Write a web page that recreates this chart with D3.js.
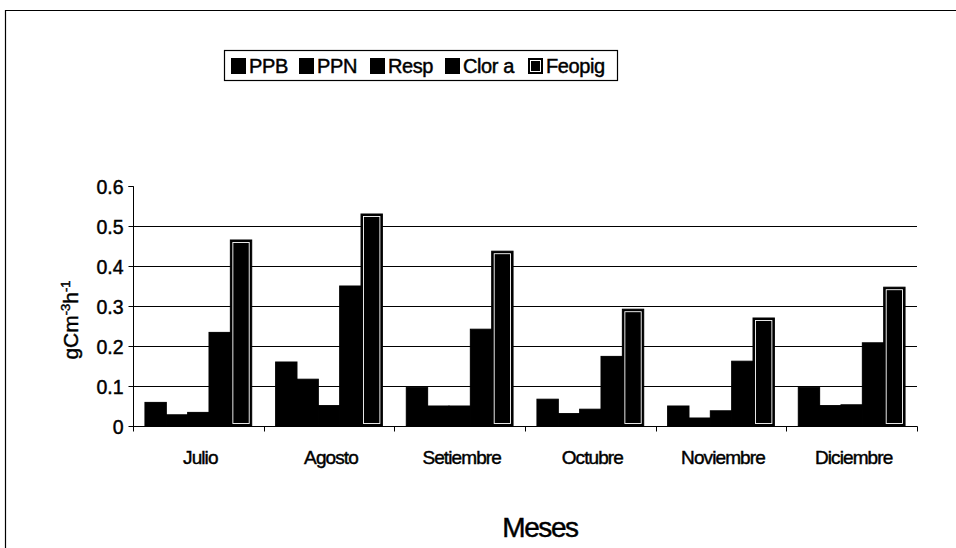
<!DOCTYPE html>
<html>
<head>
<meta charset="utf-8">
<script src="https://cdn.jsdelivr.net/npm/d3@7"></script>
<style>
  html, body { margin: 0; padding: 0; background: #fff; }
  svg { display: block; font-family: "Liberation Sans", Arial, sans-serif; }
  svg text { stroke: #000; stroke-width: 0.45px; paint-order: stroke; }
</style>
</head>
<body>
<svg id="chart" width="956" height="548"></svg>
<script>
// Monthly carbon production / respiration / pigments
const months = ["Julio", "Agosto", "Setiembre", "Octubre", "Noviembre", "Diciembre"];
const seriesNames = ["PPB", "PPN", "Resp", "Clor a", "Feopig"];
const ppb    = [0.059, 0.160, 0.096, 0.067, 0.050, 0.096];
const ppn    = [0.028, 0.117, 0.050, 0.031, 0.020, 0.051];
const resp   = [0.034, 0.051, 0.050, 0.042, 0.038, 0.053];
const clorA  = [0.234, 0.350, 0.242, 0.174, 0.162, 0.208];
const feopig = [0.465, 0.530, 0.437, 0.292, 0.270, 0.347];
const yTicks = [0, 0.1, 0.2, 0.3, 0.4, 0.5, 0.6];
const yTickLabels = ["0", "0.1", "0.2", "0.3", "0.4", "0.5", "0.6"];

const seriesValues = [ppb, ppn, resp, clorA, feopig];
const rows = [];
months.forEach((m, i) => {
  seriesNames.forEach((s, j) => rows.push({ month: m, series: s, value: seriesValues[j][i] }));
});

const svg = d3.select("#chart");

// outer frame (top and left edges)
svg.append("path")
  .attr("d", "M5.5,548 V10.5 H956")
  .attr("fill", "none").attr("stroke", "#000").attr("stroke-width", 1.2);

const plot = { left: 133, right: 917, top: 186, bottom: 426 };

const x0 = d3.scaleBand().domain(months).range([plot.left, plot.right]).padding(0);
const x1 = d3.scaleBand().domain(seriesNames).range([0, x0.bandwidth()])
  .paddingInner(0).paddingOuter(0.56);
const y = d3.scaleLinear().domain([0, 0.6]).range([plot.bottom, plot.top]);

// horizontal gridlines (no line at the top value)
svg.append("g").selectAll("line")
  .data(yTicks.filter(t => t > 0 && t < 0.6))
  .join("line")
  .attr("x1", plot.left).attr("x2", plot.right)
  .attr("y1", d => Math.round(y(d)) + 0.5).attr("y2", d => Math.round(y(d)) + 0.5)
  .attr("stroke", "#000").attr("stroke-width", 1);

// bars
const bars = svg.append("g");
bars.selectAll("rect.bar")
  .data(rows)
  .join("rect")
  .attr("class", "bar")
  .attr("x", d => x0(d.month) + x1(d.series))
  .attr("y", d => y(d.value))
  .attr("width", x1.bandwidth())
  .attr("height", d => y(0) - y(d.value))
  .attr("fill", "#000")
  .attr("stroke", "#000").attr("stroke-width", 1);

// Feopig bars carry an inner white outline
bars.selectAll("rect.inner")
  .data(rows.filter(d => d.series === "Feopig"))
  .join("rect")
  .attr("class", "inner")
  .attr("x", d => x0(d.month) + x1(d.series) + 2.5)
  .attr("y", d => y(d.value) + 2.5)
  .attr("width", x1.bandwidth() - 5)
  .attr("height", d => y(0) - y(d.value) - 5)
  .attr("fill", "none")
  .attr("stroke", "#fff").attr("stroke-width", 0.9);

// y axis
const yAxis = d3.axisLeft(y).tickValues(yTicks)
  .tickFormat((d, i) => yTickLabels[i]).tickSize(5).tickPadding(5);
const gy = svg.append("g").attr("transform", `translate(${plot.left + 0.5},0)`).call(yAxis);
gy.select(".domain").attr("stroke", "#000").attr("d", `M-5,${plot.top}.5H0V${plot.bottom}.5`);
gy.selectAll(".tick line").attr("stroke", "#000");
gy.selectAll(".tick text").attr("fill", "#000")
  .style("font-size", "19.5px").style("font-family", "'Liberation Sans', Arial, sans-serif")
  .attr("dy", "0.36em");

// x axis with ticks on category boundaries
const gx = svg.append("g").attr("transform", `translate(0,${plot.bottom + 0.5})`);
gx.append("line").attr("x1", plot.left).attr("x2", plot.right + 0.5)
  .attr("stroke", "#000");
const boundaries = months.map(m => x0(m)).concat([plot.right]);
gx.selectAll("line.tk").data(boundaries).join("line").attr("class", "tk")
  .attr("x1", d => Math.round(d) + 0.5).attr("x2", d => Math.round(d) + 0.5)
  .attr("y1", 0).attr("y2", 5).attr("stroke", "#000");
gx.selectAll("text").data(months).join("text")
  .attr("x", d => x0(d) + x0.bandwidth() / 2 + 2)
  .attr("y", 37)
  .attr("text-anchor", "middle")
  .style("font-size", "19px").style("letter-spacing", "-0.9px")
  .text(d => d);

// y axis title
const yt = svg.append("text")
  .attr("transform", "translate(78,320) rotate(-90)")
  .attr("text-anchor", "middle")
  .style("font-size", "21px");
yt.append("tspan").text("gCm");
yt.append("tspan").attr("dy", "-8").style("font-size", "13px").text("-3");
yt.append("tspan").attr("dy", "8").text("h");
yt.append("tspan").attr("dy", "-8").style("font-size", "13px").text("-1");

// x axis title
svg.append("text")
  .attr("x", 540).attr("y", 537)
  .attr("text-anchor", "middle")
  .style("font-size", "28px").style("letter-spacing", "-1.4px")
  .text("Meses");

// legend
const legend = svg.append("g");
legend.append("rect")
  .attr("x", 224.5).attr("y", 50.5).attr("width", 393).attr("height", 30)
  .attr("fill", "#fff").attr("stroke", "#000").attr("stroke-width", 1.2);
const legendX = [231, 299, 370, 445, 528];
const item = legend.selectAll("g.item").data(seriesNames).join("g")
  .attr("class", "item")
  .attr("transform", (d, i) => `translate(${legendX[i]},58)`);
item.append("rect").attr("x", 0).attr("y", 0).attr("width", 15).attr("height", 16)
  .attr("fill", "#000");
item.filter(d => d === "Feopig").append("rect")
  .attr("x", 2.5).attr("y", 2.5).attr("width", 10).attr("height", 11)
  .attr("fill", "#000").attr("stroke", "#fff").attr("stroke-width", 1);
item.append("text").attr("x", 18).attr("y", 15)
  .style("font-size", "20px").style("letter-spacing", "-0.4px")
  .text(d => d);
</script>
</body>
</html>
